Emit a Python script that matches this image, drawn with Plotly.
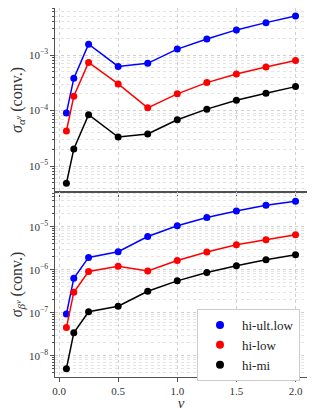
import plotly.graph_objects as go

v = [0.0625, 0.125, 0.25, 0.5, 0.75, 1.0, 1.25, 1.5, 1.75, 2.0]

alpha_ult_low = [9.0e-5, 3.8e-4, 1.57e-3, 6.25e-4, 7.1e-4, 1.28e-3, 1.94e-3, 2.84e-3, 3.84e-3, 5.06e-3]
alpha_low = [4.27e-5, 1.81e-4, 7.38e-4, 3.02e-4, 1.12e-4, 2.0e-4, 3.19e-4, 4.56e-4, 6.1e-4, 8.0e-4]
alpha_mi = [4.88e-6, 2.03e-5, 8.4e-5, 3.33e-5, 3.78e-5, 6.84e-5, 1.06e-4, 1.53e-4, 2.05e-4, 2.7e-4]

beta_ult_low = [9.3e-8, 6.3e-7, 1.93e-6, 2.62e-6, 5.9e-6, 1.05e-5, 1.64e-5, 2.33e-5, 3.15e-5, 3.9e-5]
beta_low = [4.5e-8, 3.0e-7, 9.1e-7, 1.21e-6, 9.3e-7, 1.64e-6, 2.57e-6, 3.81e-6, 4.98e-6, 6.5e-6]
beta_mi = [5.0e-9, 3.4e-8, 1.05e-7, 1.41e-7, 3.15e-7, 5.5e-7, 8.6e-7, 1.24e-6, 1.71e-6, 2.23e-6]

labels = ["hi-ult.low", "hi-low", "hi-mi"]
colors = ["#0000ff", "#ff0000", "#000000"]

x_ticks = [0.0, 0.5, 1.0, 1.5, 2.0]
x_ticktext = ["0.0", "0.5", "1.0", "1.5", "2.0"]
top_exps = [-5, -4, -3]
bot_exps = [-8, -7, -6, -5]

FONT = "Liberation Serif"
AX = "#505050"

# page offset from default body margin
OFF = 8
W, H = 315 - 2 * OFF, 419 - 2 * OFF
ML, MR, MT, MB = 55 - OFF, 0, 0, H - (377 - OFF)
PW = W - ML - MR
PH = H - MT - MB


def px_x(p):
    return (p - OFF - ML) / PW


def px_y(p):
    return (H - MB - (p - OFF)) / PH


split = px_y(192)

fig = go.Figure()

top = [alpha_ult_low, alpha_low, alpha_mi]
bot = [beta_ult_low, beta_low, beta_mi]
for i in range(3):
    fig.add_trace(go.Scatter(x=v, y=top[i], mode="lines+markers", xaxis="x", yaxis="y",
                             line=dict(color=colors[i], width=1.5),
                             marker=dict(color=colors[i], size=7), showlegend=False))
    fig.add_trace(go.Scatter(x=v, y=bot[i], mode="lines+markers", xaxis="x2", yaxis="y2",
                             line=dict(color=colors[i], width=1.5),
                             marker=dict(color=colors[i], size=7), showlegend=False))
for i in range(3):
    fig.add_trace(go.Scatter(x=[None], y=[None], mode="markers", xaxis="x2", yaxis="y2",
                             marker=dict(color=colors[i], size=8), name=labels[i], showlegend=True))


def minor_vals(e_lo, e_hi):
    vals = []
    for e in range(e_lo, e_hi + 1):
        for k in range(2, 10):
            vals.append(k * 10.0 ** e)
    return vals


common_x = dict(range=[-0.034, 2.097], tickvals=x_ticks, ticktext=x_ticktext,
                ticks="outside", ticklen=3.5, tickwidth=1, tickcolor=AX,
                showline=True, linecolor=AX, linewidth=1.3, mirror=True,
                showgrid=True, gridcolor="#cfcfcf", griddash="dot", gridwidth=0.8,
                zeroline=False, tickfont=dict(family=FONT, size=11, color="#333"))

common_y = dict(type="log", ticks="outside", ticklen=3.5, tickwidth=1, tickcolor=AX,
                showline=True, linecolor=AX, linewidth=1.3, mirror=True,
                showgrid=True, gridcolor="#cfcfcf", griddash="dot", gridwidth=0.8,
                zeroline=False, tickfont=dict(family=FONT, size=11, color="#333"))

fig.update_layout(
    width=W, height=H,
    margin=dict(l=ML, r=MR, t=MT, b=MB, autoexpand=False),
    paper_bgcolor="white", plot_bgcolor="white",
    font=dict(family=FONT, color="#333"),
    xaxis=dict(domain=[0, 1], anchor="y", showticklabels=False, matches="x2", **common_x),
    xaxis2=dict(domain=[0, 1], anchor="y2",
                title=dict(text="<i>v</i>", font=dict(family=FONT, size=15), standoff=8),
                **common_x),
    yaxis=dict(domain=[split, 1], anchor="x", range=[-5.468, -2.152],
               tickvals=[10.0 ** e for e in top_exps],
               ticktext=["10<sup>−%d</sup>" % (-e) for e in top_exps],
               minor=dict(tickvals=minor_vals(-6, -3), ticks="outside", ticklen=2,
                          tickcolor=AX, showgrid=True, gridcolor="#e4e4e4", griddash="dot",
                          gridwidth=0.6),
               title=dict(text="<i>σ</i><sub><i>α<sup>v</sup></i></sub> (conv.)",
                          font=dict(family=FONT, size=16), standoff=6),
               **common_y),
    yaxis2=dict(domain=[0, split], anchor="x2", range=[-8.495, -4.193],
                tickvals=[10.0 ** e for e in bot_exps],
                ticktext=["10<sup>−%d</sup>" % (-e) for e in bot_exps],
                minor=dict(tickvals=minor_vals(-9, -5), ticks="outside", ticklen=2,
                           tickcolor=AX, showgrid=True, gridcolor="#e4e4e4", griddash="dot",
                           gridwidth=0.6),
                title=dict(text="<i>σ</i><sub><i>β<sup>v</sup></i></sub> (conv.)",
                           font=dict(family=FONT, size=16), standoff=6),
                **common_y),
    legend=dict(x=px_x(197), y=px_y(309), xanchor="left", yanchor="top",
                bgcolor="white", bordercolor="#cccccc", borderwidth=1,
                font=dict(family=FONT, size=13, color="#222"),
                tracegroupgap=0, itemwidth=34),
    shapes=[dict(type="rect", xref="paper", yref="paper",
                 x0=px_x(200), x1=px_x(300),
                 y0=px_y(375), y1=px_y(312),
                 fillcolor="#a0a0a0", line=dict(width=0), layer="above")],
)

fig.write_html("out.html")
